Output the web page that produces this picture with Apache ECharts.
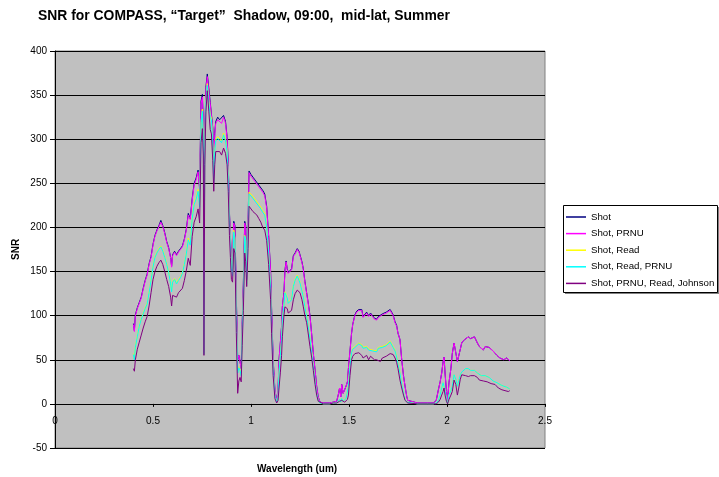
<!DOCTYPE html>
<html>
<head>
<meta charset="utf-8">
<script src="https://cdn.jsdelivr.net/npm/echarts@6/dist/echarts.min.js"></script>
<style>
html,body{margin:0;padding:0;background:#fff;}
#chart{width:719px;height:477px;}
</style>
</head>
<body>
<div id="chart"></div>
<script>
// Wavelength samples (um)
const wavelength = [
0.400,0.405,0.410,0.420,0.430,0.440,0.450,0.460,0.470,0.480,
0.490,0.500,0.510,0.520,0.530,0.540,0.550,0.560,0.570,0.580,
0.590,0.595,0.600,0.610,0.620,0.630,0.640,0.650,0.660,0.670,
0.680,0.690,0.700,0.710,0.720,0.730,0.738,0.745,0.752,0.757,
0.760,0.764,0.770,0.777,0.785,0.792,0.798,0.805,0.810,0.815,
0.820,0.830,0.840,0.850,0.860,0.870,0.878,0.884,0.890,0.895,
0.900,0.906,0.912,0.918,0.925,0.932,0.938,0.944,0.950,0.955,
0.961,0.968,0.973,0.978,0.985,0.990,1.000,1.010,1.020,1.030,
1.040,1.050,1.060,1.070,1.080,1.090,1.100,1.105,1.113,1.122,
1.131,1.138,1.143,1.150,1.156,1.160,1.168,1.173,1.179,1.185,
1.190,1.200,1.207,1.216,1.225,1.236,1.245,1.250,1.260,1.267,
1.275,1.284,1.293,1.301,1.310,1.318,1.327,1.335,1.343,1.352,
1.370,1.400,1.420,1.437,1.445,1.452,1.458,1.463,1.470,1.478,
1.485,1.492,1.497,1.505,1.513,1.519,1.530,1.539,1.550,1.556,
1.565,1.572,1.580,1.590,1.600,1.610,1.620,1.630,1.641,1.650,
1.660,1.670,1.680,1.690,1.700,1.710,1.718,1.725,1.735,1.743,
1.750,1.760,1.769,1.778,1.786,1.795,1.800,1.850,1.900,1.930,
1.945,1.956,1.965,1.973,1.980,1.985,1.990,1.997,2.003,2.010,
2.020,2.027,2.036,2.045,2.053,2.060,2.068,2.075,2.085,2.095,
2.109,2.120,2.130,2.140,2.155,2.165,2.175,2.185,2.195,2.205,
2.215,2.225,2.235,2.245,2.255,2.262,2.270,2.280,2.290,2.296,
2.304,2.313,2.320
];

const shot = [
91,83,101,109,115,121,131,140,147,159,
167,181,191,197,202,208,202,194,184,177,
166,156,169,173,169,173,176,179,187,198,
216,210,233,250,256,265,244,343,351,312,
58,302,359,374,357,342,344,313,264,307,
320,325,322,320,327,320,303,272,217,191,
162,153,207,202,122,50,55,48,40,90,
136,207,202,141,202,264,260,257,254,252,
248,246,242,238,224,191,151,108,50,16,
4,15,50,70,88,110,126,151,162,153,
149,151,153,168,171,176,173,172,161,153,
139,126,113,100,78,57,38,20,8,2,
1,1,2,3,10,18,8,22,12,10,
20,25,40,60,80,90,101,105,107,105,
107,99,101,104,100,103,100,97,96,99,
100,102,103,104,105,107,108,101,93,89,
80,73,50,32,20,8,4,1,1,1,
4,16,25,35,48,53,35,15,4,24,
40,57,69,70,48,50,62,69,72,73,
76,74,75,76,69,65,63,61,65,66,
64,62,60,59,55,53,52,51,50,48,
52,50,49
];

const shotPRNU = [
90,82,100,108,114,120,130,139,146,158,
166,180,190,196,201,206,201,193,183,176,
165,155,168,172,168,172,175,178,186,197,
214,209,231,248,254,263,242,340,348,310,
58,300,356,371,354,340,342,311,262,305,
318,322,320,318,325,318,301,270,215,190,
161,152,205,200,121,50,55,48,40,90,
135,205,200,140,200,262,258,255,252,250,
246,244,240,236,222,190,150,107,50,16,
4,15,50,70,88,110,125,150,161,152,
148,150,152,167,170,175,172,171,160,152,
138,125,112,99,78,57,38,20,8,2,
1,1,2,3,10,18,8,22,12,10,
20,25,40,60,80,90,100,104,106,104,
106,98,100,103,99,102,99,96,95,98,
99,101,102,103,104,106,107,100,92,88,
80,73,50,32,20,8,4,1,1,1,
4,16,25,35,48,53,35,15,4,24,
40,57,69,70,48,50,62,69,72,73,
76,74,75,76,69,65,63,61,65,66,
64,62,60,59,55,53,52,51,50,48,
52,50,49
];

const shotRead = [
57,51,65,77,89,97,103,109,114,127,
141,156,167,172,176,179,174,167,159,150,
137,128,139,142,137,141,144,149,159,171,
188,182,212,228,234,243,225,320,334,298,
56,288,343,363,343,327,324,295,253,288,
300,303,304,298,307,300,288,258,207,181,
154,146,197,188,102,36,42,39,33,81,
122,191,186,137,191,240,238,235,232,230,
226,223,219,216,202,172,132,91,41,10,
2,8,36,56,73,96,112,127,129,121,
115,116,119,134,141,146,141,138,129,122,
111,100,87,74,58,43,25,12,4,1,
0,0,1,1,3,5,2,6,3,3,
6,8,21,43,59,63,65,67,69,71,
67,64,66,65,62,64,61,62,60,64,
62,65,64,67,69,71,69,65,61,54,
46,36,22,12,5,2,1,0,0,0,
1,4,10,18,24,22,15,5,0,10,
15,20,33,28,20,26,33,36,38,40,
40,38,40,38,35,33,32,33,32,33,
30,28,26,25,24,23,22,21,20,20,
19,18,17
];

const shotReadPRNU = [
56,50,64,76,88,96,102,108,113,126,
140,155,166,171,175,178,173,166,158,149,
136,127,138,141,136,140,143,148,158,170,
186,180,210,226,232,241,223,318,332,296,
56,286,341,361,341,325,322,293,251,286,
298,301,302,296,305,298,286,256,205,180,
153,145,195,186,101,35,41,38,32,80,
121,190,185,136,190,238,236,233,230,228,
224,221,217,214,200,171,131,90,40,10,
2,8,35,55,72,95,111,126,128,120,
114,115,118,133,140,145,140,137,128,121,
110,99,86,73,57,42,25,12,4,1,
0,0,1,1,3,5,2,6,3,3,
6,8,20,42,58,62,64,66,68,70,
66,63,65,64,61,63,60,61,59,63,
61,64,63,66,68,70,68,64,60,53,
45,35,22,12,5,2,1,0,0,0,
1,4,10,18,24,22,15,5,0,10,
15,20,33,28,20,26,33,36,38,40,
40,38,40,38,35,33,32,33,32,33,
30,28,26,25,24,23,22,21,20,20,
19,18,17
];

const johnson = [
40,37,50,62,70,78,86,93,99,111,
126,141,150,156,160,163,158,150,141,133,
121,111,123,125,121,126,126,131,140,151,
165,157,190,206,212,221,205,296,312,281,
55,271,331,355,331,311,306,276,241,271,
286,288,286,282,290,284,271,241,191,166,
141,138,176,171,81,12,26,30,25,66,
106,171,161,133,176,224,221,218,216,214,
210,206,200,197,185,158,118,80,32,6,
1,4,18,36,55,76,100,110,112,108,
103,104,106,118,125,129,127,126,118,110,
100,92,78,65,52,38,22,10,3,1,
0,0,1,1,2,3,1,4,2,2,
4,5,10,32,50,54,57,58,58,58,
55,52,54,55,50,54,52,50,50,51,
48,52,51,54,55,57,58,56,52,47,
40,27,18,10,4,2,1,0,0,0,
0,2,5,10,14,18,10,3,0,5,
10,14,27,22,10,18,28,33,33,32,
31,32,33,32,30,27,27,26,24,25,
25,23,22,22,20,18,18,16,15,15,
16,14,15
];

const seriesNames = ['Shot', 'Shot, PRNU', 'Shot, Read', 'Shot, Read, PRNU', 'Shot, PRNU, Read, Johnson'];
const seriesValues = [shot, shotPRNU, shotRead, shotReadPRNU, johnson];
const seriesColors = ['#000080', '#FF00FF', '#FFFF00', '#00FFFF', '#800080'];

const chart = echarts.init(document.getElementById('chart'), null, {renderer: 'canvas'});
const FONT = 'Arial, "Liberation Sans", sans-serif';

const series = seriesNames.map((name, k) => ({
  name: name,
  type: 'line',
  data: wavelength.map((w, i) => [w, seriesValues[k][i]]),
  showSymbol: false,
  symbol: 'none',
  lineStyle: {color: seriesColors[k], width: 1},
  itemStyle: {color: seriesColors[k]},
  z: 3 + k,
  silent: true
}));

chart.setOption({
  animation: false,
  backgroundColor: '#ffffff',
  title: {
    text: 'SNR for COMPASS, \u201cTarget\u201d  Shadow, 09:00,  mid-lat, Summer',
    left: 33, top: 4,
    textStyle: {fontFamily: FONT, fontSize: 13.9, fontWeight: 'bold', color: '#000'}
  },
  grid: {
    left: 55, right: 174, top: 51, bottom: 29,
    show: true, backgroundColor: '#C0C0C0', borderColor: '#808080', borderWidth: 1
  },
  legend: {
    data: seriesNames,
    orient: 'vertical',
    left: 566, top: 211,
    padding: 0,
    itemWidth: 20, itemHeight: 1.5, itemGap: 4.6,
    icon: 'rect',
    textStyle: {fontFamily: FONT, fontSize: 9.7, color: '#000', lineHeight: 12},
    selectedMode: false
  },
  xAxis: {
    type: 'value', min: 0, max: 2.5, interval: 0.5,
    axisLine: {onZero: true, lineStyle: {color: '#000', width: 1}},
    axisTick: {show: true, length: 3, lineStyle: {color: '#000'}},
    axisLabel: {fontFamily: FONT, fontSize: 10, color: '#000', margin: -32},
    splitLine: {show: false}
  },
  yAxis: {
    type: 'value', min: -50, max: 400, interval: 50,
    axisLine: {show: true, lineStyle: {color: '#000', width: 1}},
    axisTick: {show: true, length: 5, lineStyle: {color: '#000'}},
    axisLabel: {fontFamily: FONT, fontSize: 10, color: '#000', margin: 8},
    splitLine: {show: true, lineStyle: {color: '#000', width: 1}}
  },
  graphic: [
    {type: 'rect', left: 565, top: 207, shape: {width: 154, height: 87}, style: {fill: '#808080'}, z: 0, silent: true},
    {type: 'rect', left: 563, top: 205, shape: {width: 154, height: 87}, style: {fill: '#ffffff', stroke: '#000', lineWidth: 1}, z: 1, silent: true},
    {type: 'text', left: 257, top: 464, style: {text: 'Wavelength (um)', font: 'bold 10px ' + FONT, fill: '#000'}, z: 10, silent: true},
    {type: 'text', x: 11, y: 260, rotation: Math.PI / 2, style: {text: 'SNR', font: 'bold 10px ' + FONT, fill: '#000'}, z: 10, silent: true}
  ],
  series: series
});
</script>
</body>
</html>
